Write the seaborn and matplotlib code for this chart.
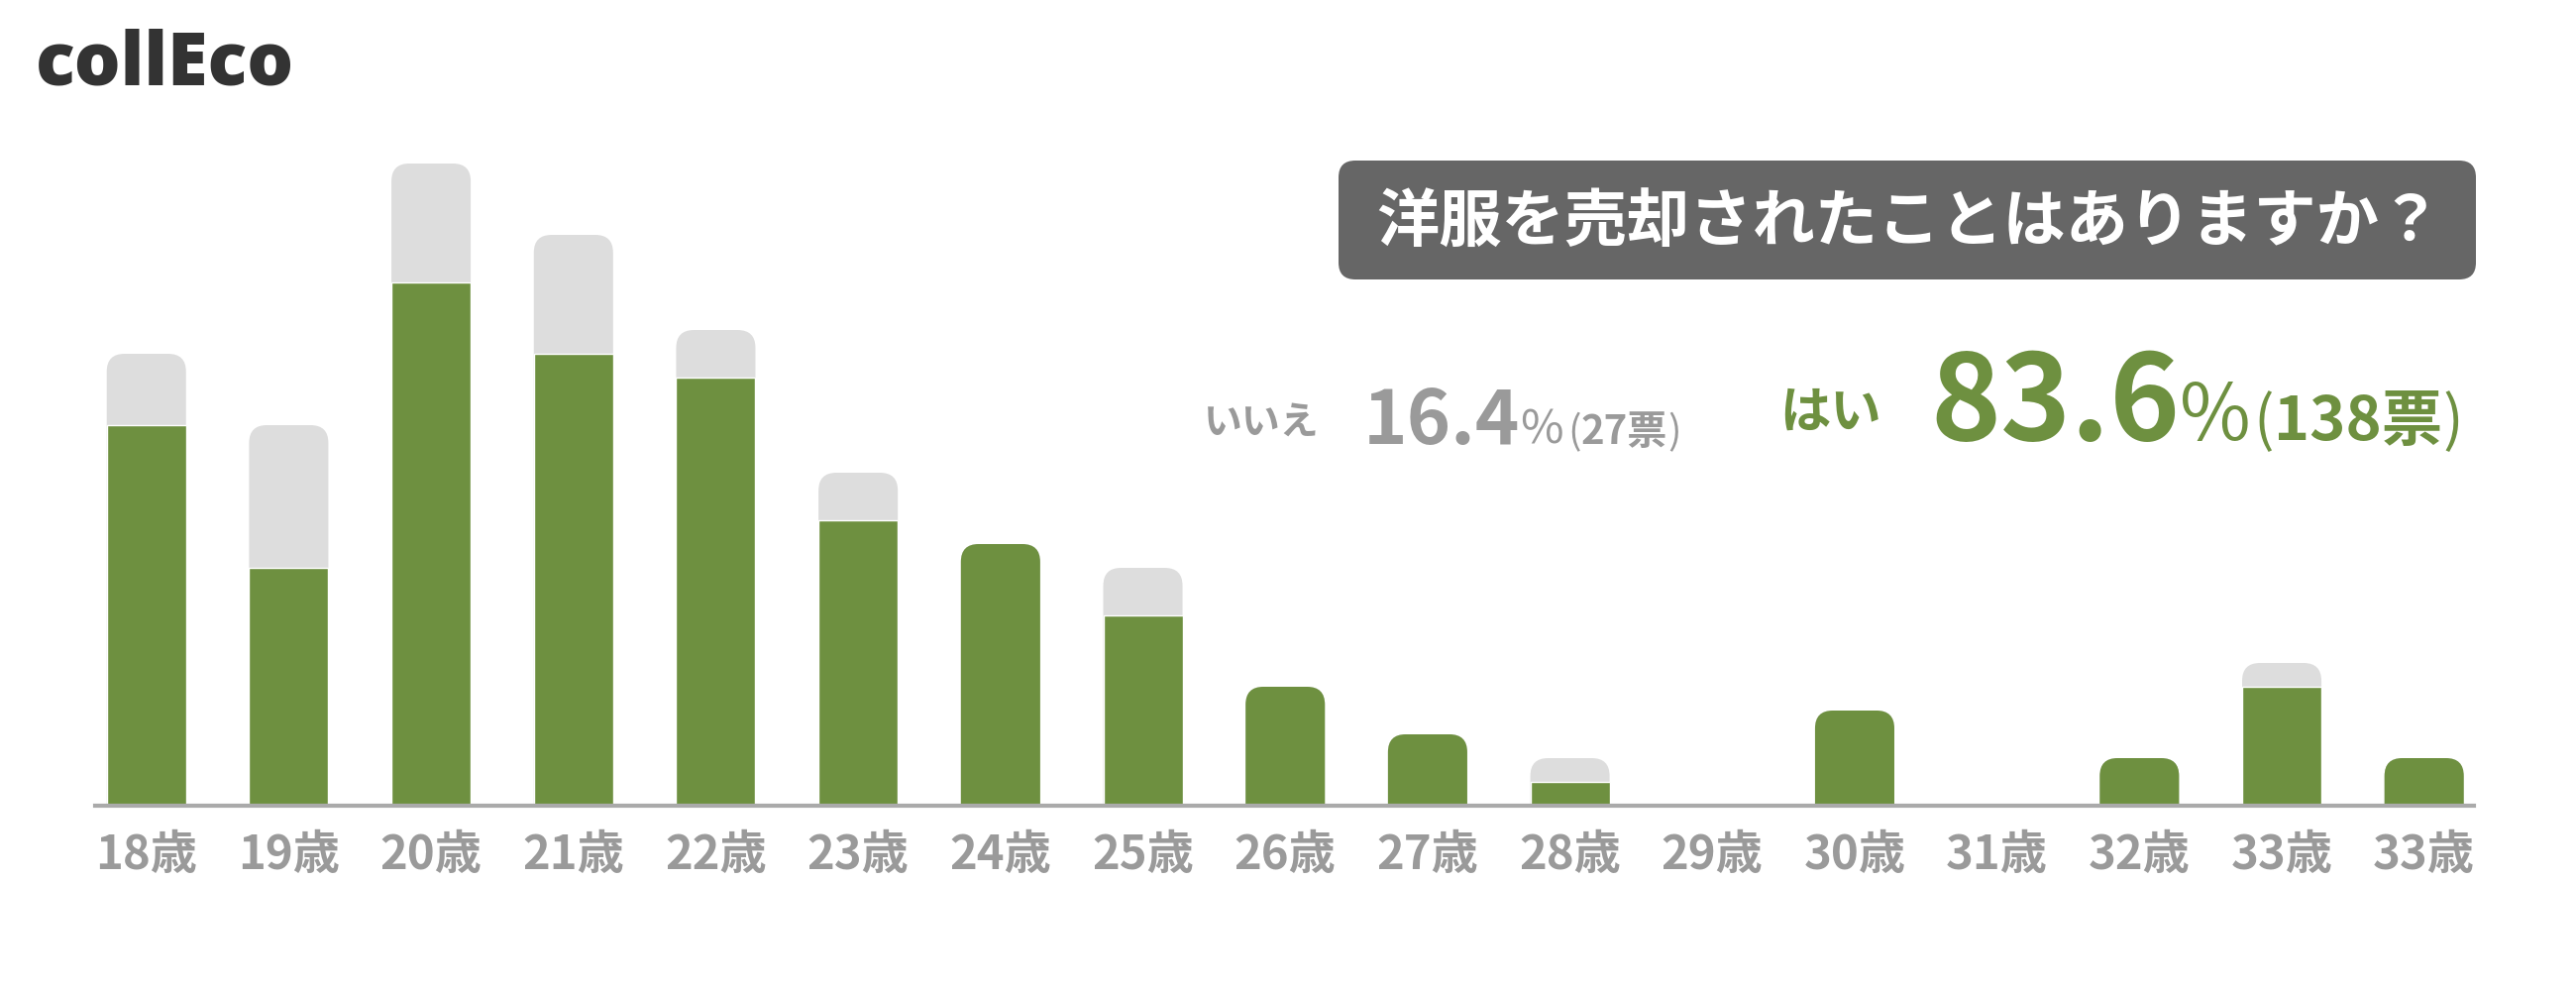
import matplotlib
matplotlib.use("Agg")
import matplotlib.pyplot as plt
from matplotlib import font_manager
from matplotlib.patches import FancyBboxPatch
import seaborn as sns
import pandas as pd

ages = ["18歳", "19歳", "20歳", "21歳", "22歳", "23歳", "24歳", "25歳", "26歳",
        "27歳", "28歳", "29歳", "30歳", "31歳", "32歳", "33歳", "33歳"]
yes_votes = [16, 10, 22, 19, 18, 12, 11, 8, 5, 3, 1, 0, 4, 0, 2, 5, 2]
no_votes = [3, 6, 5, 5, 2, 2, 0, 2, 0, 0, 1, 0, 0, 0, 0, 1, 0]

title = "洋服を売却されたことはありますか？"
yes_label = "はい"
no_label = "いいえ"

GREEN = "#6e9040"
LIGHT = "#dddddd"
TEXT_GRAY = "#9a9a9a"

yes_total = sum(yes_votes)
no_total = sum(no_votes)
yes_pct = yes_total / (yes_total + no_total) * 100
no_pct = no_total / (yes_total + no_total) * 100

df = pd.DataFrame({"pos": range(len(ages)), "yes": yes_votes, "no": no_votes})
df["total"] = df["yes"] + df["no"]

sns.set_theme(style="white")
plt.rcParams["font.family"] = ["Noto Sans CJK JP", "DejaVu Sans"]

# narrow digits if the font is there
try:
    font_manager.findfont("Liberation Sans Narrow", fallback_to_default=False)
    NUM = ["Liberation Sans Narrow", "Noto Sans CJK JP"]
    k = 1.0
except Exception:
    NUM = ["Noto Sans CJK JP", "DejaVu Sans"]
    k = 0.85

W, H = 2600, 1000
fig = plt.figure(figsize=(26, 10), dpi=100)
ax = fig.add_axes([96 / W, 0.187, 2401 / W, 0.648])

bw = 0.557
sns.barplot(data=df, x="pos", y="total", color=LIGHT, saturation=1, width=bw,
            errorbar=None, ax=ax)
sns.barplot(data=df, x="pos", y="yes", color=GREEN, saturation=1, width=bw,
            errorbar=None, ax=ax)

xlim = (-0.36, 16.35)
ylim = (0, 27)
ax.set_xlim(*xlim)
ax.set_ylim(*ylim)

# rounded top corners
px_x = 2401 / (xlim[1] - xlim[0])
px_y = 648 / (ylim[1] - ylim[0])
r = 18
rx = r / px_x
aspect = px_x / px_y
n = len(ages)
bars = list(ax.patches)
for i, p in enumerate(bars):
    idx = i % n
    is_gray = i < n
    h = p.get_height()
    if h <= 0:
        p.set_visible(False)
        continue
    if is_gray or no_votes[idx] == 0:
        col = LIGHT if is_gray else GREEN
        p.set_visible(False)
        rb = FancyBboxPatch((p.get_x(), -2), p.get_width(), h + 2,
                            boxstyle=f"round,pad=0,rounding_size={rx}",
                            mutation_aspect=aspect, fc=col, ec="none", lw=0,
                            zorder=1 if is_gray else 3)
        ax.add_patch(rb)
    else:
        p.set_zorder(2)

for s in ["left", "top", "right"]:
    ax.spines[s].set_visible(False)
ax.spines["bottom"].set_color("#aaaaaa")
ax.spines["bottom"].set_linewidth(3)
ax.spines["bottom"].set_zorder(5)
ax.set_yticks([])
ax.set_xticks(range(n))
ax.set_xticklabels(ages, fontsize=34, color=TEXT_GRAY, fontweight="bold")
ax.tick_params(axis="x", length=0, pad=19)
ax.set_xlabel("")
ax.set_ylabel("")


def px(x, y):
    return x / W, 1 - y / H


renderer = fig.canvas.get_renderer()


def chain(x, y, parts):
    # put texts one after another, left to right, on a common baseline
    for s, kw, gap in parts:
        t = fig.text(*px(x + gap, y), s, ha="left", va="baseline", **kw)
        bb = t.get_window_extent(renderer=renderer)
        x = bb.x1


# logo
fig.text(*px(36, 86), "collEco", fontsize=53, fontweight="heavy", color="#333333",
         family=["Open Sans", "DejaVu Sans"], ha="left", va="baseline")

# title box
box = FancyBboxPatch((13.51, 7.18), 11.48, 1.2,
                     boxstyle="round,pad=0,rounding_size=0.17",
                     transform=fig.dpi_scale_trans, fc="#666666", ec="none")
fig.patches.append(box)
fig.text(*px(1927, 224), title, fontsize=45.5, fontweight="bold", color="white",
         ha="center", va="center")

# no
fig.text(*px(1215, 426), no_label, fontsize=28, fontweight="bold", color=TEXT_GRAY,
         ha="left", va="center")
chain(1376, 448, [
    (f"{no_pct:.1f}", dict(fontsize=64 * k, fontweight="bold", color=TEXT_GRAY, family=NUM), 0),
    ("%", dict(fontsize=40 * k, color=TEXT_GRAY, family=NUM), 0),
    ("(", dict(fontsize=34 * k, color=TEXT_GRAY, family=NUM), 4),
    (f"{no_total}票", dict(fontsize=34 * k, fontweight="bold", color=TEXT_GRAY, family=NUM), 0),
    (")", dict(fontsize=34 * k, color=TEXT_GRAY, family=NUM), 0),
])

# yes
fig.text(*px(1796, 416), yes_label, fontsize=37, fontweight="bold", color=GREEN,
         ha="left", va="center")
chain(1948, 444, [
    (f"{yes_pct:.1f}", dict(fontsize=102 * k, fontweight="bold", color=GREEN, family=NUM), 0),
    ("%", dict(fontsize=66 * k, color=GREEN, family=NUM), 0),
    ("(", dict(fontsize=52 * k, color=GREEN, family=NUM), 3),
    (f"{yes_total}票", dict(fontsize=52 * k, fontweight="bold", color=GREEN, family=NUM), 0),
    (")", dict(fontsize=52 * k, color=GREEN, family=NUM), 0),
])

fig.savefig("out.png", dpi=100, facecolor="white")
